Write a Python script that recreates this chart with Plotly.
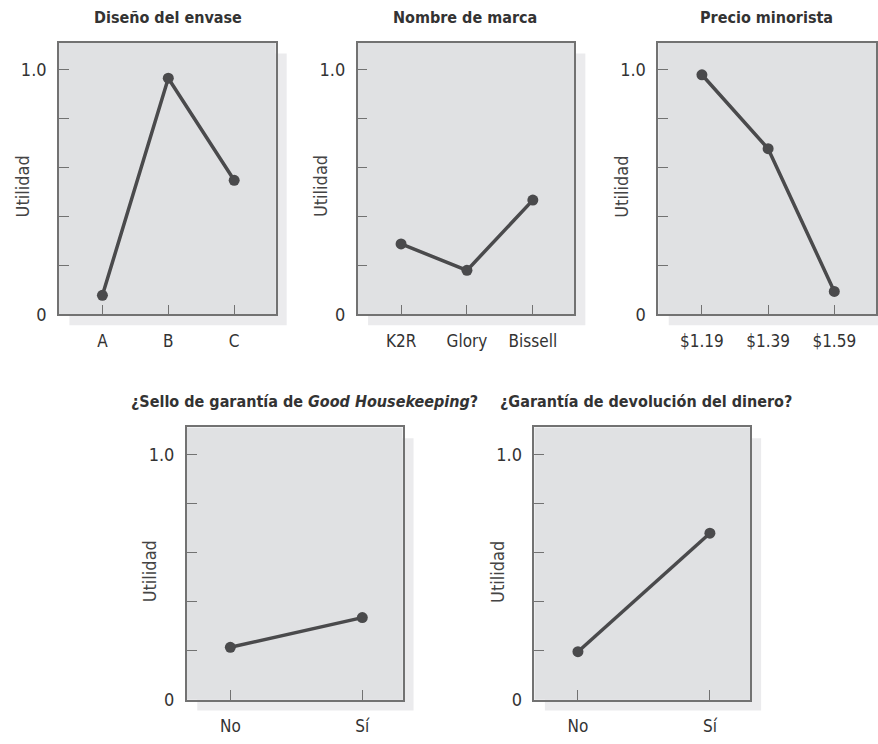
import plotly.graph_objects as go

# Part-worth utilities
envase_cats = ["A", "B", "C"]
envase_vals = [0.078, 0.965, 0.548]

marca_cats = ["K2R", "Glory", "Bissell"]
marca_vals = [0.288, 0.180, 0.467]

precio_cats = ["$1.19", "$1.39", "$1.59"]
precio_vals = [0.979, 0.677, 0.094]

sello_cats = ["No", "Sí"]
sello_vals = [0.214, 0.335]

devol_cats = ["No", "Sí"]
devol_vals = [0.196, 0.679]

titles = [
    "Diseño del envase",
    "Nombre de marca",
    "Precio minorista",
    "¿Sello de garantía de <i>Good Housekeeping</i>?",
    "¿Garantía de devolución del dinero?",
]

W, H = 878, 744
FONT = "DejaVu Sans Condensed, Liberation Sans Narrow, Arial Narrow, sans-serif"
LINE = "#4a4a4c"
AXIS = "#727272"
FACE = "#e0e1e3"
SHADOW = "#ebebed"

# panel boxes in pixels: (x0, x1, y0, y1), y measured from top
boxes = [
    (59, 276, 43.3, 318.7),
    (358, 575, 43.3, 318.7),
    (659, 877, 43.3, 318.7),
    (187, 403, 433.3, 709.3),
    (535, 751, 433.3, 709.3),
]
title_x = [168, 466, 767, 305, 647]

panels = [
    (envase_cats, envase_vals),
    (marca_cats, marca_vals),
    (precio_cats, precio_vals),
    (sello_cats, sello_vals),
    (devol_cats, devol_vals),
]


def px(x):
    return x / W


def py(y):
    return 1 - y / H


fig = go.Figure()
shapes = []
annotations = []
layout_axes = {}

for i, ((cats, vals), (x0, x1, y0, y1)) in enumerate(zip(panels, boxes)):
    n = i + 1
    xa = "x" if n == 1 else f"x{n}"
    ya = "y" if n == 1 else f"y{n}"
    fig.add_trace(go.Scatter(
        x=cats, y=vals, xaxis=xa, yaxis=ya,
        mode="lines+markers",
        line=dict(color=LINE, width=3.5),
        marker=dict(color=LINE, size=11),
        showlegend=False, hoverinfo="skip",
    ))

    xr = [-0.66, 2.63] if len(cats) == 3 else [-0.33, 1.305]
    layout_axes["xaxis" if n == 1 else f"xaxis{n}"] = dict(
        domain=[px(x0), px(x1)], anchor=ya, type="category",
        range=xr, showgrid=False, zeroline=False,
        showline=True, mirror=True, linecolor=AXIS, linewidth=1.5,
        ticks="inside", ticklen=10, tickwidth=1.3, tickcolor=AXIS,
        ticklabelstandoff=10,
        tickfont=dict(family=FONT, size=17, color="#333"),
        fixedrange=True,
    )
    layout_axes["yaxis" if n == 1 else f"yaxis{n}"] = dict(
        domain=[py(y1), py(y0)], anchor=xa,
        range=[0, 1.11], showgrid=False, zeroline=False,
        showline=True, mirror=True, linecolor=AXIS, linewidth=1.5,
        ticks="inside", ticklen=10, tickwidth=1.3, tickcolor=AXIS,
        tickvals=[0, 0.2, 0.4, 0.6, 0.8, 1.0],
        ticktext=["0", "", "", "", "", "1.0"],
        ticklabelstandoff=7,
        tickfont=dict(family=FONT, size=18, color="#333"),
        fixedrange=True,
    )

    # drop shadow, then panel face
    shapes.append(dict(
        type="rect", xref="paper", yref="paper", layer="below",
        x0=px(x0 + 10.5), x1=px(x1 + 11), y0=py(y1 + 11), y1=py(y0 + 11),
        fillcolor=SHADOW, line=dict(width=0),
    ))
    shapes.append(dict(
        type="rect", xref="paper", yref="paper", layer="below",
        x0=px(x0), x1=px(x1), y0=py(y1), y1=py(y0),
        fillcolor=FACE, line=dict(width=0),
    ))

    annotations.append(dict(
        text=f"<b>{titles[i]}</b>", xref="paper", yref="paper",
        x=px(title_x[i]), y=py(y0 - 26), xanchor="center", yanchor="middle",
        showarrow=False, font=dict(family=FONT, size=16, color="#333"),
    ))
    annotations.append(dict(
        text="Utilidad", xref="paper", yref="paper", textangle=-90,
        x=px(x0 - 37), y=py((y0 + y1) / 2 + 8), xanchor="center", yanchor="middle",
        showarrow=False, font=dict(family=FONT, size=18, color="#444"),
    ))

fig.update_layout(
    width=W, height=H,
    margin=dict(l=0, r=0, t=0, b=0),
    paper_bgcolor="white",
    plot_bgcolor="rgba(0,0,0,0)",
    shapes=shapes,
    annotations=annotations,
    **layout_axes,
)

# drop the default 8px page margin so the figure sits at the window origin
fig.write_html(
    "out.html",
    config={"displayModeBar": False},
    post_script="document.body.style.margin='0';",
)
